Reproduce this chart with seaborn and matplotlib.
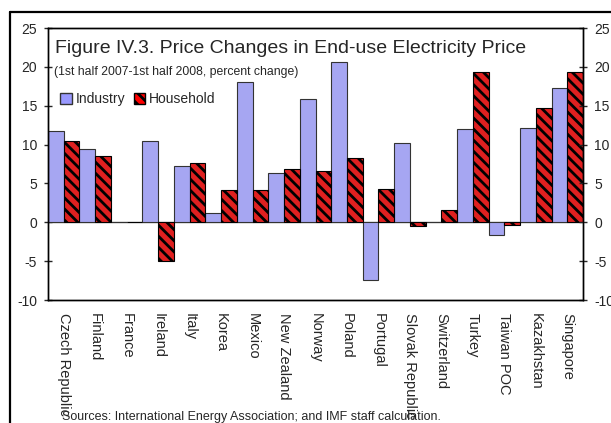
import matplotlib
matplotlib.use('Agg')
import matplotlib.pyplot as plt
import seaborn as sns
import pandas as pd
from matplotlib.lines import Line2D
from matplotlib.patches import Patch

countries = ['Czech Republic', 'Finland', 'France', 'Ireland', 'Italy', 'Korea', 'Mexico',
             'New Zealand', 'Norway', 'Poland', 'Portugal', 'Slovak Republic', 'Switzerland',
             'Turkey', 'Taiwan POC', 'Kazakhstan', 'Singapore']
industry = [11.8, 9.4, 0.0, 10.4, 7.3, 1.2, 18.0, 6.4, 15.8, 20.6, -7.4, 10.2, 0.0, 12.0, -1.7, 12.1, 17.3]
household = [10.5, 8.5, 0.0, -5.0, 7.6, 4.1, 4.2, 6.9, 6.6, 8.3, 4.3, -0.5, 1.6, 19.4, -0.3, 14.7, 19.4]
y_ticks = [-10, -5, 0, 5, 10, 15, 20, 25]

df = pd.DataFrame({'Country': countries * 2,
                   'Value': industry + household,
                   'Type': ['Industry'] * len(countries) + ['Household'] * len(countries)})

sns.set_style('white')
plt.rcParams['font.family'] = ['Liberation Sans', 'DejaVu Sans']
plt.rcParams['hatch.linewidth'] = 2.0

fig = plt.figure(figsize=(6.11, 4.23), dpi=100)
ax = fig.add_axes([48/611, 1 - 300/423, (583-48)/611, (300-28)/423])

sns.barplot(data=df, x='Country', y='Value', hue='Type', order=countries,
            palette={'Industry': '#9999ff', 'Household': '#ff0000'},
            width=1.0, gap=0, edgecolor='#333333', linewidth=0.8, legend=False, ax=ax)

# household bars get the black diagonal stripes
for bar in ax.containers[1]:
    bar.set_hatch('\\\\\\')
    bar.set_edgecolor('black')

ax.axhline(0, color='#808080', lw=1, zorder=0.5)
ax.set_xlim(-0.5, len(countries) - 0.5)
ax.set_ylim(-10, 25)
ax.set_yticks(y_ticks)
ax.set_yticklabels([str(t) for t in y_ticks], fontsize=10)
ax.set_xlabel('')
ax.set_ylabel('')
ax.set_xticks(range(len(countries)))
ax.set_xticklabels(countries, rotation=270, fontsize=10.5, ha='center', va='top')
ax.tick_params(axis='x', length=0, pad=9)
ax.tick_params(axis='y', direction='inout', length=6, width=1, pad=5, left=True)
for s in ax.spines.values():
    s.set_color('black')
    s.set_linewidth(1)

ax2 = ax.twinx()
ax2.set_ylim(-10, 25)
ax2.set_yticks(y_ticks)
ax2.set_yticklabels([str(t) for t in y_ticks], fontsize=10)
ax2.tick_params(axis='y', direction='inout', length=6, width=1, pad=5, right=True)
for s in ax2.spines.values():
    s.set_linewidth(1)
    s.set_color('black')

ax.text(0.013, 0.955, 'Figure IV.3. Price Changes in End-use Electricity Price',
        transform=ax.transAxes, fontsize=14, va='top', ha='left')
ax.text(0.011, 0.86, '(1st half 2007-1st half 2008, percent change)',
        transform=ax.transAxes, fontsize=8.8, va='top', ha='left')

handles = [Patch(facecolor='#9999ff', edgecolor='#333333', label='Industry'),
           Patch(facecolor='#ff0000', edgecolor='black', hatch='\\\\\\', label='Household')]
ax.legend(handles=handles, loc='upper left', bbox_to_anchor=(0.005, 0.80), ncol=2, frameon=False,
          fontsize=10, handlelength=0.8, handleheight=0.8, handletextpad=0.3,
          columnspacing=0.6, borderaxespad=0.3)

fig.text(62/611, 1 - 420/423, 'Sources: International Energy Association; and IMF staff calculation.',
         fontsize=9, va='baseline', ha='left')

# outer frame lines
fig.add_artist(Line2D([10/611, 1], [1 - 12/423, 1 - 12/423], color='black', lw=1.6, transform=fig.transFigure))
fig.add_artist(Line2D([10/611, 10/611], [0, 1 - 12/423], color='black', lw=1.6, transform=fig.transFigure))

fig.savefig('out.png', dpi=100)
